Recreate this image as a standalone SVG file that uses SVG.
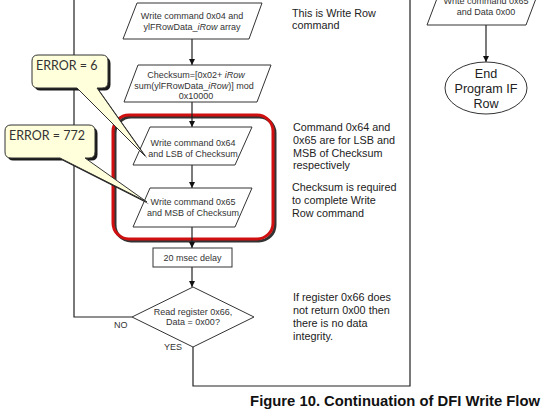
<svg xmlns="http://www.w3.org/2000/svg" width="550" height="419" viewBox="0 0 550 419">
<defs>
<marker id="ah" viewBox="0 0 10 10" refX="10" refY="5" markerWidth="6" markerHeight="6" markerUnits="userSpaceOnUse" orient="auto">
<path d="M0,0 L10,5 L0,10 Z" fill="#111"/>
</marker>
<style>
.shape{fill:#fff;stroke:#333;stroke-width:1}
.t{font-family:"Liberation Sans",Arial,sans-serif;font-size:9px;fill:#333;text-anchor:middle}
.note{font-family:"Liberation Sans",Arial,sans-serif;font-size:10.8px;fill:#222}
.line{fill:none;stroke:#222;stroke-width:1.2}
.call{fill:#FFFFDC;stroke:#333;stroke-width:1}
.shadow{fill:#1a1a1a}
.ct{font-family:Lato,"Open Sans",sans-serif;font-size:12.5px;fill:#333}
.end{font-family:"Liberation Sans",Arial,sans-serif;font-size:12.6px;fill:#222;text-anchor:middle}
.yn{font-family:"Liberation Sans",Arial,sans-serif;font-size:9px;fill:#333}
</style>
</defs>
<rect width="550" height="419" fill="#fff"/>

<g id="highlight">
<rect x="115" y="117" width="160" height="124" rx="16" fill="none" stroke="#333" stroke-width="3"/>
<rect x="113" y="115" width="160" height="124" rx="16" fill="none" stroke="#d01010" stroke-width="3"/>
</g>

<g id="connectors">
<line class="line" x1="192" y1="39" x2="192" y2="65" marker-end="url(#ah)"/>
<line class="line" x1="192" y1="102" x2="192" y2="127" marker-end="url(#ah)"/>
<line class="line" x1="192" y1="165" x2="192" y2="188" marker-end="url(#ah)"/>
<line class="line" x1="192" y1="227" x2="192" y2="248" marker-end="url(#ah)"/>
<line class="line" x1="192" y1="267" x2="192" y2="287" marker-end="url(#ah)"/>
<polyline class="line" points="132,317 74,317 74,0"/>
<polyline class="line" points="193,347 193,386 410,386 410,0"/>
<line class="line" x1="486" y1="25" x2="486" y2="62" marker-end="url(#ah)"/>
</g>

<g id="n-write04">
<polygon class="shape" points="137,3 262,3 249,39 123,39"/>
<text class="t" x="192" y="19">Write command 0x04 and</text>
<text class="t" x="192" y="30">ylFRowData_<tspan font-style="italic">iRow</tspan>  array</text>
</g>

<g id="n-checksum">
<polygon class="shape" points="138,65 271,65 257,102 124,102"/>
<text class="t" x="196" y="78">Checksum=[0x02+ <tspan font-style="italic">iRow</tspan></text>
<text class="t" x="194" y="88.5">sum(ylFRowData_<tspan font-style="italic">iRow</tspan>)] mod</text>
<text class="t" x="196" y="99">0x10000</text>
</g>

<g id="n-write64">
<polygon class="shape" points="150,127 252,127 235,165 133,165"/>
<text class="t" x="193" y="146">Write command 0x64</text>
<text class="t" x="193" y="156.5">and LSB of Checksum</text>
</g>

<g id="n-write65">
<polygon class="shape" points="150,188 252,188 235,227 133,227"/>
<text class="t" x="193" y="205">Write command 0x65</text>
<text class="t" x="193" y="216">and MSB of Checksum</text>
</g>

<g id="n-delay">
<rect class="shape" x="153" y="248" width="79" height="19"/>
<text class="t" x="192.5" y="261">20 msec delay</text>
</g>

<g id="n-read66">
<polygon class="shape" points="193,287 254,317 193,347 132,317"/>
<text class="t" x="193" y="315">Read register 0x66,</text>
<text class="t" x="193" y="324.5">Data = 0x00?</text>
</g>
<text class="yn" x="114" y="327.5">NO</text>
<text class="yn" x="164" y="349.5">YES</text>

<g id="n-write65data">
<polygon class="shape" points="441,-12 540,-12 526,25 427,25"/>
<text class="t" x="486" y="4">Write command 0x65</text>
<text class="t" x="486" y="15">and Data 0x00</text>
</g>

<g id="n-end">
<ellipse class="shape" cx="486" cy="88" rx="41" ry="26"/>
<text class="end" x="486" y="78">End</text>
<text class="end" x="486" y="93">Program IF</text>
<text class="end" x="486" y="108">Row</text>
</g>

<g id="notes">
<text class="note" x="292" y="17">This is Write Row</text>
<text class="note" x="292" y="28.5">command</text>
<text class="note" x="293" y="131">Command 0x64 and</text>
<text class="note" x="293" y="144">0x65 are for LSB and</text>
<text class="note" x="293" y="157">MSB of Checksum</text>
<text class="note" x="293" y="169">respectively</text>
<text class="note" x="292" y="191">Checksum is required</text>
<text class="note" x="292" y="204">to complete Write</text>
<text class="note" x="292" y="217">Row command</text>
<text class="note" x="293" y="301">If register 0x66 does</text>
<text class="note" x="293" y="314">not return 0x00 then</text>
<text class="note" x="293" y="327">there is no data</text>
<text class="note" x="293" y="340">integrity.</text>
</g>

<g id="callout-error6">
<path class="shadow" transform="translate(2.5,2.5)" d="M38,55 H102 Q108,55 108,61 V82 Q108,88 102,88 H97 L145,156 L77,88 H38 Q32,88 32,82 V61 Q32,55 38,55 Z"/>
<path class="call" d="M38,55 H102 Q108,55 108,61 V82 Q108,88 102,88 H97 L145,156 L77,88 H38 Q32,88 32,82 V61 Q32,55 38,55 Z"/>
<text class="ct" x="36" y="70">ERROR = 6</text>
</g>

<g id="callout-error772">
<path class="shadow" transform="translate(2.5,2.5)" d="M11,125 H89 Q95,125 95,131 V152 Q95,158 89,158 H85 L147,202 L60,158 H11 Q5,158 5,152 V131 Q5,125 11,125 Z"/>
<path class="call" d="M11,125 H89 Q95,125 95,131 V152 Q95,158 89,158 H85 L147,202 L60,158 H11 Q5,158 5,152 V131 Q5,125 11,125 Z"/>
<text class="ct" x="9" y="140">ERROR = 772</text>
</g>

<text x="540" y="406" text-anchor="end" font-family="'Liberation Sans',Arial,sans-serif" font-size="14.8" font-weight="bold" fill="#111">Figure 10. Continuation of DFI Write Flow</text>
</svg>
